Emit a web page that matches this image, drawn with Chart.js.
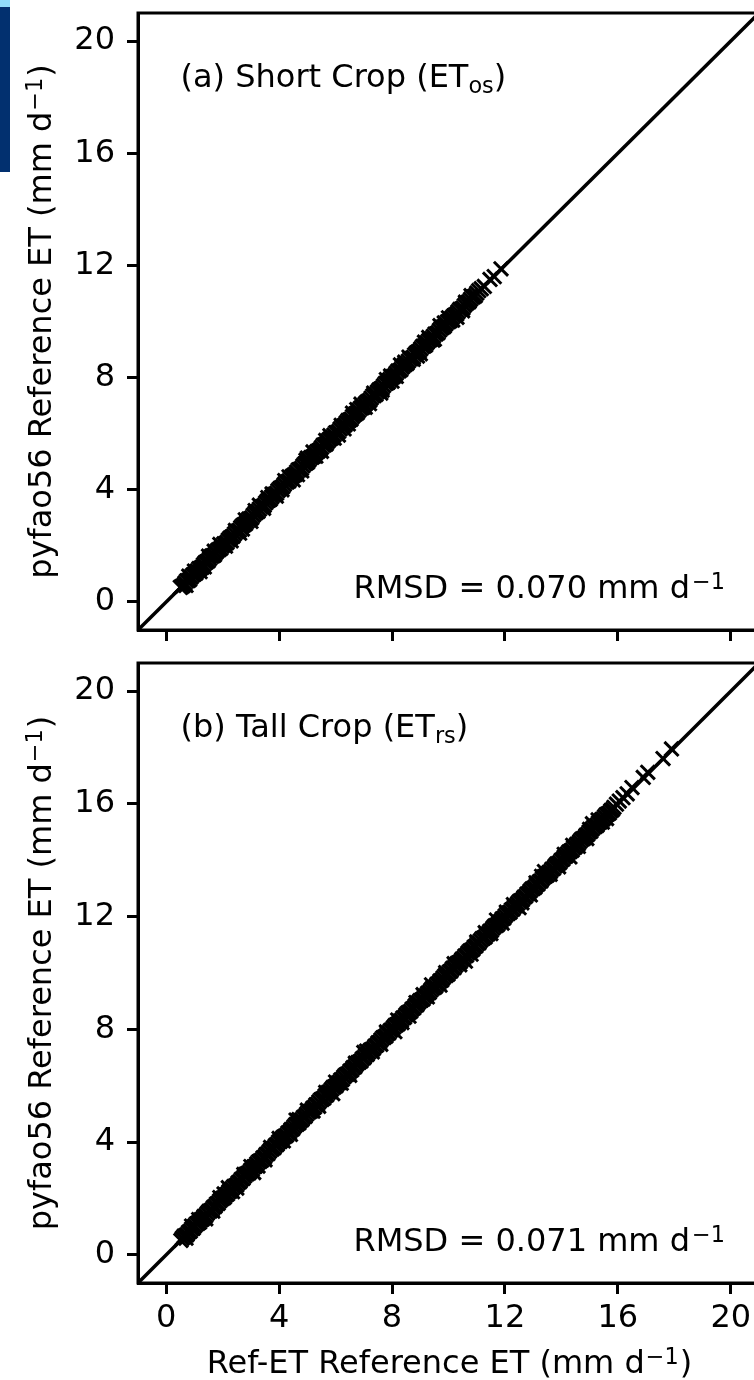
<!DOCTYPE html>
<html><head><meta charset="utf-8">
<script src="https://cdn.jsdelivr.net/npm/chart.js@4.4.1/dist/chart.umd.min.js"></script>
<style>
html,body{margin:0;padding:0;background:#fff;overflow:hidden;width:754px;height:1380px;}
#wrap{position:relative;width:754px;height:1380px;overflow:hidden;background:#fff;}
#c1{position:absolute;left:0;top:0;}
#c2{position:absolute;left:0;top:650px;}
#strip{position:absolute;left:0;top:0;width:10px;height:172px;background:linear-gradient(#90dbfa 0px,#90dbfa 7px,#02306f 7px,#02306f 172px);}
</style></head><body>
<div id="wrap"><canvas id="c1" width="776" height="650"></canvas><canvas id="c2" width="776" height="730"></canvas><div id="strip"></div></div>
<script>
// ---------- data ----------
const xTicks = [0, 4, 8, 12, 16, 20];
const yTicks = [0, 4, 8, 12, 16, 20];
const axisMin = -1, axisMax = 21;
const identityLine = [-1, 21];

// (a) Short crop: Ref-ET (x) vs pyfao56 (y)
const shortRef = [0.50,0.55,0.61,0.66,0.72,0.77,0.83,0.88,0.94,0.99,1.05,1.10,1.16,1.21,1.27,1.32,
1.38,1.43,1.49,1.54,1.60,1.65,1.71,1.76,1.82,1.87,1.93,1.98,2.04,2.09,2.15,2.20,
2.26,2.31,2.37,2.42,2.48,2.53,2.59,2.64,2.70,2.75,2.81,2.86,2.92,2.97,3.03,3.08,
3.14,3.19,3.25,3.30,3.36,3.41,3.47,3.52,3.58,3.63,3.69,3.74,3.80,3.85,3.91,3.96,
4.02,4.07,4.13,4.18,4.24,4.29,4.35,4.40,4.46,4.51,4.57,4.62,4.68,4.73,4.79,4.84,
4.90,4.95,5.01,5.06,5.12,5.17,5.23,5.28,5.34,5.39,5.45,5.50,5.56,5.61,5.67,5.72,
5.78,5.83,5.89,5.94,6.00,6.05,6.11,6.16,6.22,6.27,6.33,6.38,6.44,6.49,6.55,6.60,
6.66,6.71,6.77,6.82,6.88,6.93,6.99,7.04,7.10,7.15,7.21,7.26,7.32,7.37,7.43,7.48,
7.54,7.59,7.65,7.70,7.76,7.81,7.87,7.92,7.98,8.03,8.09,8.14,8.20,8.25,8.31,8.36,
8.42,8.47,8.53,8.58,8.64,8.69,8.75,8.80,8.86,8.91,8.97,9.02,9.08,9.13,9.19,9.24,
9.30,9.35,9.41,9.46,9.52,9.57,9.63,9.68,9.74,9.79,9.85,9.90,9.96,10.01,10.07,10.12,
10.18,10.23,10.29,10.34,10.40,10.45,10.51,10.56,10.62,10.67,10.73,10.78,10.84,10.89,10.95,11.00,
11.07,11.16,11.27,11.47,11.62,11.86,
1.90,2.60,3.30,4.50,5.20,6.10,6.90,7.60,8.30,9.00,9.70,10.30,
0.80,1.20,1.50,2.30,2.80,3.00,3.60,3.90,4.20,4.80,5.00,5.50,5.80,6.30,6.60,7.20,7.80,8.00,8.60,8.90,9.30,9.50,10.00,10.50,10.80,
0.70,1.00,1.35,1.70,2.10,2.45,2.70,3.15,3.45,3.75,4.10,4.35,4.65,4.95,5.30,5.65,5.95,6.20,6.45,6.75,7.05,7.35,7.65,7.95,8.15,8.45,8.75,9.15,9.45,9.85,10.15,10.60];
const shortPy = [0.52,0.55,0.59,0.67,0.75,0.76,0.80,0.89,0.96,0.99,1.03,1.11,1.19,1.20,1.24,1.33,
1.40,1.43,1.47,1.55,1.63,1.64,1.68,1.77,1.84,1.87,1.91,1.99,2.07,2.08,2.12,2.21,
2.28,2.31,2.35,2.43,2.51,2.52,2.56,2.65,2.72,2.75,2.79,2.87,2.95,2.96,3.00,3.09,
3.16,3.19,3.23,3.31,3.39,3.40,3.44,3.53,3.60,3.63,3.67,3.75,3.83,3.84,3.88,3.97,
4.04,4.07,4.11,4.19,4.27,4.28,4.32,4.41,4.48,4.51,4.55,4.63,4.71,4.72,4.76,4.85,
4.92,4.95,4.99,5.07,5.15,5.16,5.20,5.29,5.36,5.39,5.43,5.51,5.59,5.60,5.64,5.73,
5.80,5.83,5.87,5.95,6.03,6.04,6.08,6.17,6.24,6.27,6.31,6.39,6.47,6.48,6.52,6.61,
6.68,6.71,6.75,6.83,6.91,6.92,6.96,7.05,7.12,7.15,7.19,7.27,7.35,7.36,7.40,7.49,
7.56,7.59,7.63,7.71,7.79,7.80,7.84,7.93,8.00,8.03,8.07,8.15,8.23,8.24,8.28,8.37,
8.44,8.47,8.51,8.59,8.67,8.68,8.72,8.81,8.88,8.91,8.95,9.03,9.11,9.12,9.16,9.25,
9.32,9.35,9.39,9.47,9.55,9.56,9.60,9.69,9.76,9.79,9.83,9.91,9.99,10.00,10.04,10.13,
10.20,10.23,10.27,10.35,10.43,10.44,10.48,10.57,10.64,10.67,10.71,10.79,10.87,10.88,10.92,11.01,
11.10,11.17,11.25,11.50,11.60,11.88,
2.05,2.45,3.45,4.35,5.35,5.95,7.05,7.45,8.45,8.85,9.85,10.15,
0.92,1.08,1.63,2.18,2.93,2.87,3.72,3.77,4.33,4.67,5.13,5.37,5.93,6.17,6.73,7.07,7.93,7.87,8.73,8.77,9.43,9.37,10.13,10.38,10.92,
0.59,1.10,1.25,1.81,1.99,2.55,2.60,3.26,3.34,3.85,4.00,4.46,4.54,5.05,5.20,5.76,5.84,6.30,6.35,6.86,6.94,7.45,7.55,8.06,8.04,8.55,8.65,9.26,9.34,9.95,10.05,10.69];

// (b) Tall crop: Ref-ET (x) vs pyfao56 (y)
const tallRef = [0.52,0.57,0.63,0.68,0.74,0.79,0.85,0.90,0.96,1.01,1.07,1.12,1.18,1.23,1.29,1.34,
1.40,1.45,1.51,1.56,1.62,1.67,1.73,1.78,1.84,1.89,1.95,2.00,2.06,2.11,2.17,2.22,
2.28,2.33,2.39,2.44,2.50,2.55,2.61,2.66,2.72,2.77,2.83,2.88,2.94,2.99,3.05,3.10,
3.16,3.21,3.27,3.32,3.38,3.43,3.49,3.54,3.60,3.65,3.71,3.76,3.82,3.87,3.93,3.98,
4.04,4.09,4.15,4.20,4.26,4.31,4.37,4.42,4.48,4.53,4.59,4.64,4.70,4.75,4.81,4.86,
4.92,4.97,5.03,5.08,5.14,5.19,5.25,5.30,5.36,5.41,5.47,5.52,5.58,5.63,5.69,5.74,
5.80,5.85,5.91,5.96,6.02,6.07,6.13,6.18,6.24,6.29,6.35,6.40,6.46,6.51,6.57,6.62,
6.68,6.73,6.79,6.84,6.90,6.95,7.01,7.06,7.12,7.17,7.23,7.28,7.34,7.39,7.45,7.50,
7.56,7.61,7.67,7.72,7.78,7.83,7.89,7.94,8.00,8.05,8.11,8.16,8.22,8.27,8.33,8.38,
8.44,8.49,8.55,8.60,8.66,8.71,8.77,8.82,8.88,8.93,8.99,9.04,9.10,9.15,9.21,9.26,
9.32,9.37,9.43,9.48,9.54,9.59,9.65,9.70,9.76,9.81,9.87,9.92,9.98,10.03,10.09,10.14,
10.20,10.25,10.31,10.36,10.42,10.47,10.53,10.58,10.64,10.69,10.75,10.80,10.86,10.91,10.97,11.02,
11.08,11.13,11.19,11.24,11.30,11.35,11.41,11.46,11.52,11.57,11.63,11.68,11.74,11.79,11.85,11.90,
11.96,12.01,12.07,12.12,12.18,12.23,12.29,12.34,12.40,12.45,12.51,12.56,12.62,12.67,12.73,12.78,
12.84,12.89,12.95,13.00,13.06,13.11,13.17,13.22,13.28,13.33,13.39,13.44,13.50,13.55,13.61,13.66,
13.72,13.77,13.83,13.88,13.94,13.99,14.05,14.10,14.16,14.21,14.27,14.32,14.38,14.43,14.49,14.54,
14.60,14.65,14.71,14.76,14.82,14.87,14.93,14.98,15.04,15.09,15.15,15.20,15.26,15.31,15.37,15.42,
15.48,15.53,15.59,15.64,15.70,15.75,15.81,15.86,
15.95,16.05,16.18,16.33,16.50,16.90,17.06,17.60,17.90,
2.20,3.10,4.60,5.90,7.00,8.10,9.40,10.60,11.70,12.50,13.40,14.30,15.10,
0.90,1.40,1.90,2.50,3.00,3.50,4.00,4.40,5.00,5.40,6.00,6.50,7.10,7.60,8.20,8.60,9.10,9.70,10.20,10.80,11.30,11.90,12.30,12.90,13.30,13.90,14.40,14.90,15.30,15.60,
0.70,1.15,1.65,2.05,2.35,2.75,3.25,3.70,4.15,4.70,5.20,5.65,6.20,6.70,7.30,7.80,8.35,8.85,9.25,9.90,10.40,11.00,11.50,12.05,12.60,13.10,13.60,14.10,14.60,15.00,15.45];
const tallPy = [0.51,0.59,0.66,0.68,0.72,0.80,0.84,0.92,0.95,1.03,1.10,1.12,1.16,1.24,1.28,1.36,
1.39,1.47,1.54,1.56,1.60,1.68,1.72,1.80,1.83,1.91,1.98,2.00,2.04,2.12,2.16,2.24,
2.27,2.35,2.42,2.44,2.48,2.56,2.60,2.68,2.71,2.79,2.86,2.88,2.92,3.00,3.04,3.12,
3.15,3.23,3.30,3.32,3.36,3.44,3.48,3.56,3.59,3.67,3.74,3.76,3.80,3.88,3.92,4.00,
4.03,4.11,4.18,4.20,4.24,4.32,4.36,4.44,4.47,4.55,4.62,4.64,4.68,4.76,4.80,4.88,
4.91,4.99,5.06,5.08,5.12,5.20,5.24,5.32,5.35,5.43,5.50,5.52,5.56,5.64,5.68,5.76,
5.79,5.87,5.94,5.96,6.00,6.08,6.12,6.20,6.23,6.31,6.38,6.40,6.44,6.52,6.56,6.64,
6.67,6.75,6.82,6.84,6.88,6.96,7.00,7.08,7.11,7.19,7.26,7.28,7.32,7.40,7.44,7.52,
7.55,7.63,7.70,7.72,7.76,7.84,7.88,7.96,7.99,8.07,8.14,8.16,8.20,8.28,8.32,8.40,
8.43,8.51,8.58,8.60,8.64,8.72,8.76,8.84,8.87,8.95,9.02,9.04,9.08,9.16,9.20,9.28,
9.31,9.39,9.46,9.48,9.52,9.60,9.64,9.72,9.75,9.83,9.90,9.92,9.96,10.04,10.08,10.16,
10.19,10.27,10.34,10.36,10.40,10.48,10.52,10.60,10.63,10.71,10.78,10.80,10.84,10.92,10.96,11.04,
11.07,11.15,11.22,11.24,11.28,11.36,11.40,11.48,11.51,11.59,11.66,11.68,11.72,11.80,11.84,11.92,
11.95,12.03,12.10,12.12,12.16,12.24,12.28,12.36,12.39,12.47,12.54,12.56,12.60,12.68,12.72,12.80,
12.83,12.91,12.98,13.00,13.04,13.12,13.16,13.24,13.27,13.35,13.42,13.44,13.48,13.56,13.60,13.68,
13.71,13.79,13.86,13.88,13.92,14.00,14.04,14.12,14.15,14.23,14.30,14.32,14.36,14.44,14.48,14.56,
14.59,14.67,14.74,14.76,14.80,14.88,14.92,15.00,15.03,15.11,15.18,15.20,15.24,15.32,15.36,15.44,
15.47,15.55,15.62,15.64,15.68,15.76,15.80,15.88,
15.99,16.10,16.22,16.36,16.58,16.94,17.12,17.61,17.95,
2.38,2.92,4.78,5.72,7.18,7.92,9.58,10.42,11.88,12.32,13.60,14.12,15.30,
1.02,1.28,2.03,2.37,3.13,3.37,4.13,4.27,5.13,5.27,6.13,6.37,7.23,7.47,8.33,8.47,9.23,9.57,10.33,10.67,11.43,11.77,12.43,12.77,13.43,13.77,14.53,14.77,15.43,15.48,
0.59,1.25,1.55,2.16,2.24,2.85,3.15,3.81,4.04,4.80,5.10,5.76,6.09,6.80,7.20,7.91,8.24,8.95,9.15,10.01,10.29,11.10,11.40,12.16,12.49,13.20,13.50,14.21,14.49,15.10,15.35];

const yTitle = { main: 'pyfao56 Reference ET (mm d', sup: '\u22121', tail: ')' };
const xTitle = { main: 'Ref-ET Reference ET (mm d', sup: '\u22121', tail: ')' };
const panelA = { pre: '(a) Short Crop (ET', sub: 'os', post: ')', stat: 'RMSD = 0.070 mm d', sup: '\u22121', xTitle: false };
const panelB = { pre: '(b) Tall Crop (ET', sub: 'rs', post: ')', stat: 'RMSD = 0.071 mm d', sup: '\u22121', xTitle: true };

// ---------- rendering ----------
const FONT = '"DejaVu Sans", sans-serif';
const FS = 32;
const BIG = FS + 'px ' + FONT, SMALL = (FS * 0.7) + 'px ' + FONT;
Chart.defaults.font.family = FONT;
Chart.defaults.color = '#000';

function supText(ctx, t, x, y, raise) {
  ctx.font = BIG; ctx.fillText(t.main, x, y); x += ctx.measureText(t.main).width + 1;
  ctx.font = SMALL; ctx.fillText(t.sup, x, y - raise); x += ctx.measureText(t.sup).width + 1;
  ctx.font = BIG; ctx.fillText(t.tail, x, y);
}
function supWidth(ctx, t) {
  ctx.font = BIG; let w = ctx.measureText(t.main).width + ctx.measureText(t.tail).width;
  ctx.font = SMALL; w += ctx.measureText(t.sup).width;
  return w + 2;
}

const panelText = {
  id: 'panelText',
  afterDraw(chart, args, o) {
    const { ctx, chartArea: ca } = chart;
    ctx.save();
    ctx.strokeStyle = '#000';
    ctx.lineWidth = 3;
    ctx.strokeRect(ca.left, ca.top, ca.right - ca.left, ca.bottom - ca.top);
    ctx.fillStyle = '#000';
    ctx.textBaseline = 'alphabetic';
    ctx.textAlign = 'left';
    let x = ca.left + 42.5;
    const y = ca.top + 74;
    ctx.font = BIG; ctx.fillText(o.pre, x, y); x += ctx.measureText(o.pre).width;
    ctx.font = SMALL; ctx.fillText(o.sub, x, y + 6); x += ctx.measureText(o.sub).width;
    ctx.font = BIG; ctx.fillText(o.post, x, y);
    ctx.font = BIG; const wm = ctx.measureText(o.stat).width;
    ctx.font = SMALL; const ws = ctx.measureText(o.sup).width;
    const xe = ca.right - 34, yb = ca.bottom - 32;
    ctx.font = BIG; ctx.fillText(o.stat, xe - ws - wm - 2, yb);
    ctx.font = SMALL; ctx.fillText(o.sup, xe - ws, yb - 9.5);
    const wy = supWidth(ctx, yTitle);
    ctx.save();
    ctx.translate(51, (ca.top + ca.bottom) / 2);
    ctx.rotate(-Math.PI / 2);
    supText(ctx, yTitle, -wy / 2, 0, 9.5);
    ctx.restore();
    if (o.xTitle) {
      const wx = supWidth(ctx, xTitle);
      supText(ctx, xTitle, (ca.left + ca.right) / 2 - wx / 2 + 1, chart.height - 7, 9.5);
    }
    ctx.restore();
  }
};

function makePanel(id, ref, py, cfg) {
  const pts = ref.map((v, i) => ({ x: v, y: py[i] }));
  const line = identityLine.map(v => ({ x: v, y: v }));
  return new Chart(document.getElementById(id), {
    type: 'scatter',
    data: {
      datasets: [
        { type: 'line', data: line, borderColor: '#000', borderWidth: 3.5, pointRadius: 0, fill: false, tension: 0 },
        { data: pts, pointStyle: 'crossRot', pointRadius: 10, pointBorderWidth: 3,
          pointBorderColor: '#000', pointBackgroundColor: '#000', showLine: false }
      ]
    },
    options: {
      responsive: false, animation: false, devicePixelRatio: 1, events: [],
      layout: { padding: { top: cfg.padTop, right: 17, left: 0, bottom: 0 } },
      plugins: { legend: { display: false }, tooltip: { enabled: false }, panelText: cfg.text },
      scales: {
        x: {
          type: 'linear', position: 'bottom', min: axisMin, max: axisMax,
          afterBuildTicks: s => { s.ticks = xTicks.map(v => ({ value: v })); },
          afterFit: s => { s.height = cfg.xHeight; s.paddingLeft = 0; s.paddingRight = 0; },
          grid: { drawOnChartArea: false, drawTicks: true, tickLength: 11, tickWidth: 3, tickColor: '#000' },
          border: { display: true, color: '#000', width: 3 },
          ticks: { display: cfg.xLabels, padding: 5, font: { size: FS }, color: '#000', maxRotation: 0, autoSkip: false },
          title: { display: false }
        },
        y: {
          type: 'linear', position: 'left', min: axisMin, max: axisMax,
          afterBuildTicks: s => { s.ticks = yTicks.map(v => ({ value: v })); },
          afterFit: s => { s.width = 138; s.paddingTop = 0; s.paddingBottom = 0; },
          grid: { drawOnChartArea: false, drawTicks: true, tickLength: 11, tickWidth: 3, tickColor: '#000' },
          border: { display: true, color: '#000', width: 3 },
          ticks: { padding: 12, font: { size: FS }, color: '#000', autoSkip: false },
          title: { display: false }
        }
      }
    },
    plugins: [panelText]
  });
}

makePanel('c1', shortRef, shortPy, { padTop: 10, xHeight: 20, xLabels: false, text: panelA });
makePanel('c2', tallRef, tallPy, { padTop: 12, xHeight: 97, xLabels: true, text: panelB });
</script></body></html>
